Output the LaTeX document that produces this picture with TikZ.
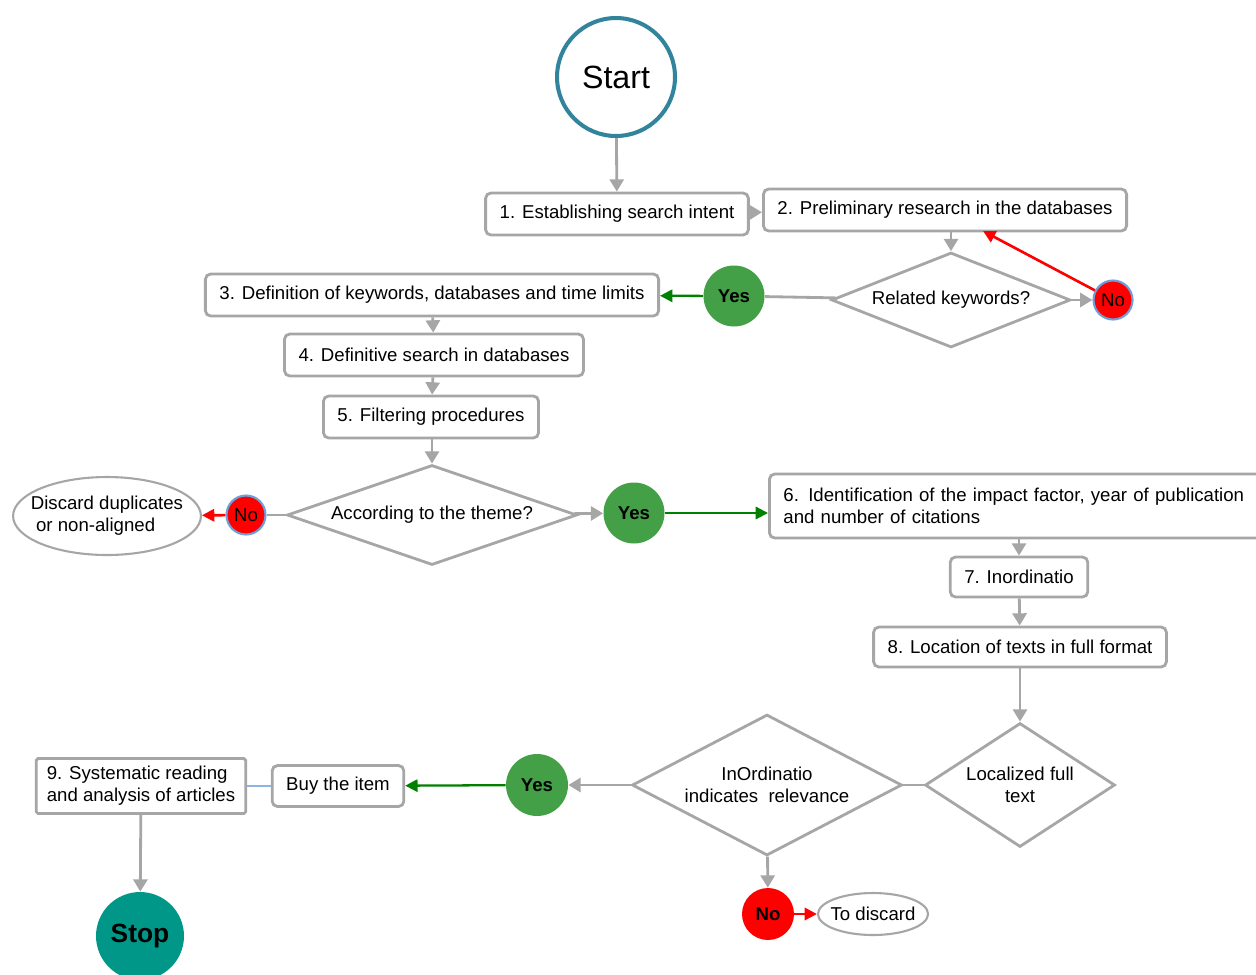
\documentclass[tikz,border=0pt]{standalone}
\usepackage{fontspec}
\setmainfont{Liberation Sans}
\usetikzlibrary{arrows.meta,positioning,shapes.geometric}
\definecolor{linegray}{HTML}{A6A6A6}
\definecolor{startblue}{HTML}{31849B}
\definecolor{yesgreen}{HTML}{43A047}
\definecolor{arrowgreen}{HTML}{008000}
\definecolor{noblue}{HTML}{6F9FD8}
\definecolor{linkblue}{HTML}{8EB4E3}
\definecolor{stopteal}{HTML}{009688}
\tikzset{font=\fontsize{10.6}{12.5}\selectfont}
\tikzstyle{stepbox}=[draw=linegray,line width=1.6pt,rounded corners=3pt,fill=white,inner xsep=8pt,minimum height=0.84cm]
\tikzstyle{choice}=[diamond,draw=linegray,line width=1.6pt,inner sep=0pt,align=center]
\tikzstyle{yesdot}=[circle,fill=yesgreen,font=\fontsize{10.6}{12.5}\selectfont\bfseries,minimum size=1.22cm,inner sep=0pt]
\tikzstyle{nodot}=[circle,fill=red,draw=noblue,line width=1.2pt,minimum size=0.78cm,inner sep=0pt]
\tikzstyle{endnode}=[ellipse,draw=linegray,line width=1.2pt,inner ysep=0pt]
\tikzstyle{flow}=[color=linegray,line width=1.6pt,-{Triangle[length=7pt,width=8pt]}]
\tikzstyle{goyes}=[color=arrowgreen,line width=1.3pt,-{Triangle[length=7pt,width=7pt]}]
\tikzstyle{gono}=[color=red,line width=1.5pt,-{Triangle[length=7pt,width=7pt]}]

\begin{document}
\begin{tikzpicture}[x=0.02cm,y=-0.02cm]
\useasboundingbox (0,0) rectangle (1256,974);
% start and the first two steps
\node[circle,draw=startblue,line width=2.3pt,minimum size=2.36cm,font=\fontsize{18.3}{20}\selectfont] (start) at (616,77) {Start};
\node[stepbox] (intent) at (617,214) {1. Establishing search intent};
\node[stepbox] (prelim) at (945,210) {2. Preliminary research in the databases};
\node[choice,minimum width=4.78cm,minimum height=1.9cm,aspect=2.5] (related) at (951,300) {Related keywords?};
\node[nodot] (no1) at (1113,300) {No};
\coordinate (back) at (983,231);
\node[yesdot] (yes1) at (734,296) {Yes};
% keywords, search and filtering
\node[stepbox] (keys) at (432,295) {3. Definition of keywords, databases and time limits};
\node[stepbox] (search) at (434,355) {4. Definitive search in databases};
\node[stepbox] (filter) at (431,417) {5. Filtering procedures};
\node[choice,minimum width=5.8cm,minimum height=2.0cm,aspect=2.9] (theme) at (432,515) {According to the theme?};
\node[nodot] (no2) at (246,515) {No};
\node[endnode,align=left,inner xsep=-5.5pt,minimum height=1.56cm] (discard) at (107,516) {Discard duplicates\\ \ or non-aligned};
\node[yesdot] (yes2) at (634,513) {Yes};
% impact factor to full text
\node[stepbox,align=left,anchor=west,text width=9.5cm,minimum height=1.28cm] (ident) at (768,506) {6. Identification of the impact factor, year of publication\\and number of citations};
\node[stepbox,minimum height=0.8cm] (inord) at (1019,577) {7. Inordinatio};
\node[stepbox,minimum height=0.8cm] (locate) at (1020,647) {8. Location of texts in full format};
\node[choice,minimum width=3.8cm,minimum height=2.48cm,aspect=1.5] (full) at (1020,785) {Localized full\\text};
\node[choice,minimum width=5.4cm,minimum height=2.82cm,aspect=1.9] (relev) at (767,785) {InOrdinatio\\indicates\ \ relevance};
\node[yesdot,minimum size=1.24cm] (yes3) at (537,785) {Yes};
\node[stepbox,minimum height=0.82cm] (buy) at (338,786) {Buy the item};
\node[stepbox,rounded corners=1pt,align=left,inner xsep=6pt,minimum height=1.1cm] (read) at (141,786) {9. Systematic reading\\and analysis of articles};
\node[circle,fill=stopteal,minimum size=1.76cm,font=\fontsize{15}{17}\selectfont\bfseries] (stop) at (140,936) {Stop};
\node[circle,fill=red,minimum size=1.04cm,inner sep=0pt,font=\fontsize{10.6}{12.5}\selectfont\bfseries] (no3) at (768,914) {No};
\node[endnode,inner xsep=-2pt,minimum height=0.84cm] (todiscard) at (873,914) {To discard};

\path[flow]
(start) edge (intent)
(intent) edge (prelim)
(related.north |- prelim.south) edge (related.north)
(related) edge (no1)
(theme) edge (yes2)
(keys) edge (search)
(search) edge (filter)
(theme.north |- filter.south) edge (theme.north)
(inord.north |- ident.south) edge (inord)
(inord) edge (locate)
(locate) edge (full)
(relev) edge (yes3)
(relev) edge (no3)
(read) edge (stop);
\path[draw=linegray,line width=1.6pt]
(related) edge (yes1)
(theme) edge (no2)
(full) edge (relev);
\draw[linkblue,line width=0.6pt] (buy) -- (read);
\path[goyes]
(yes1) edge (keys)
(yes2) edge (ident.west |- yes2)
(yes3) edge (buy);
\path[gono]
(no1) edge (back)
(no2) edge (discard)
(no3) edge (todiscard);
\end{tikzpicture}
\end{document}
